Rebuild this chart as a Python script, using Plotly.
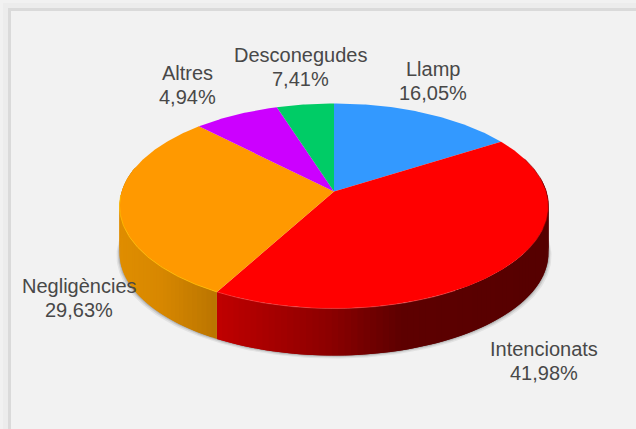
import numpy as np
import plotly.graph_objects as go

# ---- data ----
categories = ["Llamp", "Intencionats", "Negligències", "Altres", "Desconegudes"]
label_shares = ["16,05%", "41,98%", "29,63%", "4,94%", "7,41%"]
# slice sizes as drawn, clockwise from 12 o'clock (purple is the larger of the last two)
slice_values = [16.05, 41.98, 29.63, 7.41, 4.94]
slice_colors = ["#3399FF", "#FF0000", "#FF9900", "#CC00FF", "#00CC66"]

# ---- layout constants (pixels) ----
W, H = 636, 429
CX, CY = 334.0, 191.5
RX, RY, K = 212.3, 100.5, 0.1415
DEPTH = 47
LABEL_POS = {"Llamp": (433, 81), "Intencionats": (544, 361), "Negligències": (79, 298),
             "Altres": (187, 85), "Desconegudes": (300, 67)}
LINE_GAP = 12
FONT = "Liberation Sans"


def project(deg, r=1.0):
    a = np.radians(deg)
    X, Y = r * np.sin(a), r * np.cos(a)
    w = 1 + K * Y
    return CX + RX * X / w, CY - RY * Y / w


def lerp_stops(x, stops):
    xs = [s[0] for s in stops]
    return tuple(np.interp(x, xs, [s[1][i] for s in stops]) for i in range(3))


RED_SIDE = [(218, (192, 0, 0)), (333, (138, 0, 0)), (400, (94, 0, 0)), (550, (86, 0, 0))]
ORANGE_SIDE = [(118, (224, 142, 0)), (160, (216, 136, 0)), (218, (186, 117, 0))]

edges = np.cumsum([0] + slice_values) / sum(slice_values) * 360
fig = go.Figure()


def poly(xs, ys, color, lw=0.0, line=None):
    fig.add_trace(go.Scatter(x=xs, y=ys, mode="lines", fill="toself", fillcolor=color,
                             line=dict(color=line or color, width=lw), hoverinfo="skip",
                             showlegend=False))


# soft shadow below the side wall
t = np.linspace(85, 285, 200)
bx, by = project(t)
for grow, alpha in [(3.0, 0.10), (1.8, 0.16), (0.8, 0.25)]:
    sx = CX + (bx - CX) * (1 + grow / RX)
    poly(list(sx) + list(bx[::-1]), list(by + DEPTH + grow) + list(by[::-1]), f"rgba(90,90,90,{alpha})")

# side wall: overlapping strips so that the shading runs left to right without seams
step = 1.5
for start, end, stops in [(edges[1], edges[2], RED_SIDE), (edges[2], edges[3], ORANGE_SIDE)]:
    a0 = max(start, 82)
    a1 = min(end, 284)
    n = int(np.ceil((a1 - a0) / step))
    ang = np.linspace(a0, a1, n + 1)
    for i in range(n):
        seg = ang[i:i + 3]
        px, py = project(seg)
        mx, _ = project(ang[i:i + 2])
        c = "rgb(%d,%d,%d)" % lerp_stops(float(mx.mean()), stops)
        poly(list(px) + list(px[::-1]) + [px[0]],
             list(py) + list(py[::-1] + DEPTH) + [py[0]], c)

# top face
for i, color in enumerate(slice_colors):
    t = np.linspace(edges[i], edges[i + 1], max(3, int(slice_values[i] * 6)))
    px, py = project(t)
    ax, ay = project(0, 0)
    poly([ax] + list(px) + [ax], [ay] + list(py) + [ay], color)

# bevel along the front rim
t = np.linspace(edges[2], 268, 80)
px, py = project(t)
fig.add_trace(go.Scatter(x=px, y=py, mode="lines", line=dict(color="rgba(255,190,0,0.8)", width=1.0),
                         hoverinfo="skip", showlegend=False))
t = np.linspace(150, edges[2], 80)
px, py = project(t)
fig.add_trace(go.Scatter(x=px, y=py, mode="lines", line=dict(color="rgba(255,90,90,0.45)", width=1.0),
                         hoverinfo="skip", showlegend=False))
t = np.linspace(70, 125, 60)
px, py = project(t)
fig.add_trace(go.Scatter(x=px, y=py, mode="lines", line=dict(color="rgba(130,0,0,0.6)", width=1.0),
                         hoverinfo="skip", showlegend=False))

annotations = []
for name, share in zip(categories, label_shares):
    x, y = LABEL_POS[name]
    for txt, dy in [(name, -LINE_GAP), (share, LINE_GAP)]:
        annotations.append(dict(x=x, y=y + dy, xref="x", yref="y", text=txt, showarrow=False,
                                font=dict(family=FONT, size=20, color="#484848")))

bands = [(0, "#F1F1F1"), (3, "#ECECEC"), (8, "#DADADA"), (11, "#F2F2F2")]
shapes = []
for off, col in bands:
    shapes.append(dict(type="rect", xref="x", yref="y", x0=off, y0=off, x1=W, y1=H,
                       fillcolor=col, line=dict(width=0), layer="below"))

fig.update_layout(width=W, height=H, margin=dict(l=0, r=0, t=0, b=0), autosize=False,
                  paper_bgcolor="#F2F2F2", plot_bgcolor="#F2F2F2", showlegend=False,
                  xaxis=dict(range=[0, W], visible=False, fixedrange=True),
                  yaxis=dict(range=[H, 0], visible=False, fixedrange=True),
                  shapes=shapes, annotations=annotations)
fig.write_html("out.html", config={"displayModeBar": False},
               post_script="document.body.style.margin='0';document.body.style.overflow='hidden';")
